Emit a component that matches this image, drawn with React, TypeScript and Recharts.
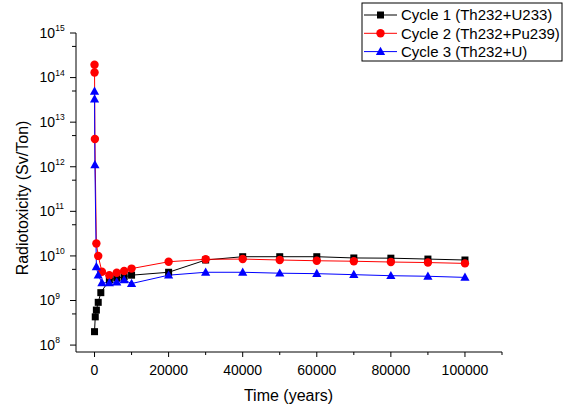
import React from 'react';
import { LineChart, Line, XAxis, YAxis } from 'recharts';

const yearsCycle1 = [0, 200, 500, 1000, 1700, 4000, 6000, 8000, 10000, 20000, 30000, 40000, 50000, 60000, 70000, 80000, 90000, 100000];
const cycle1 = [2.0e8, 4.3e8, 6.1e8, 9.1e8, 1.5e9, 2.9e9, 3.2e9, 3.4e9, 3.7e9, 4.3e9, 8.1e9, 9.6e9, 9.6e9, 9.6e9, 9.0e9, 8.9e9, 8.5e9, 8.1e9];

const yearsCycle23 = [0, 10, 100, 500, 1000, 2000, 4000, 6000, 8000, 10000, 20000, 30000, 40000, 50000, 60000, 70000, 80000, 90000, 100000];
const cycle2 = [1.94e14, 1.3e14, 4.2e12, 1.9e10, 1.0e10, 4.4e9, 3.7e9, 4.2e9, 4.6e9, 5.2e9, 7.4e9, 8.4e9, 8.5e9, 8.1e9, 7.8e9, 7.6e9, 7.3e9, 7.1e9, 6.8e9];
const cycle3 = [4.9e13, 3.3e13, 1.1e12, 5.7e9, 3.7e9, 2.5e9, 2.5e9, 2.6e9, 2.9e9, 2.4e9, 3.7e9, 4.3e9, 4.3e9, 4.1e9, 4.0e9, 3.8e9, 3.6e9, 3.5e9, 3.3e9];

const seriesNames = ['Cycle 1 (Th232+U233)', 'Cycle 2 (Th232+Pu239)', 'Cycle 3 (Th232+U)'];
const seriesColors = ['#000000', '#ff0000', '#0000ff'];

const xTicks = [0, 10000, 20000, 30000, 40000, 50000, 60000, 70000, 80000, 90000, 100000, 110000];
const xLabelTicks = [0, 20000, 40000, 60000, 80000, 100000];
const yMajorExps = [8, 9, 10, 11, 12, 13, 14, 15];
const yMinorTicks = [5e8, 5e9, 5e10, 5e11, 5e12, 5e13, 5e14];

const FONT = '"Liberation Sans", Arial, sans-serif';

const data1 = yearsCycle1.map((t, i) => ({ t, v: cycle1[i] }));
const data2 = yearsCycle23.map((t, i) => ({ t, v: cycle2[i] }));
const data3 = yearsCycle23.map((t, i) => ({ t, v: cycle3[i] }));
const yTicks = [...yMajorExps.map((e) => Math.pow(10, e)), ...yMinorTicks].sort((a, b) => a - b);

const SquareDot = (p: any) => {
  const { cx, cy } = p;
  if (cx == null || cy == null) return null;
  return <rect x={cx - 3.5} y={cy - 3.5} width={7} height={7} fill="#000" />;
};
const CircleDot = (p: any) => {
  const { cx, cy } = p;
  if (cx == null || cy == null) return null;
  return <circle cx={cx} cy={cy} r={4.2} fill="#ff0000" />;
};
const TriDot = (p: any) => {
  const { cx, cy } = p;
  if (cx == null || cy == null) return null;
  return <polygon points={`${cx},${cy - 4.8} ${cx + 4.6},${cy + 3.4} ${cx - 4.6},${cy + 3.4}`} fill="#0000ff" />;
};

const XTick = (p: any) => {
  const { x, y, payload } = p;
  const v = payload.value;
  const major = xLabelTicks.includes(v);
  return (
    <g>
      <line x1={x} x2={x} y1={y} y2={y + (major ? 5 : 3)} stroke="#000" strokeWidth={1} />
      {major && (
        <text x={x} y={y + 23} textAnchor="middle" fontSize={14} fontFamily={FONT} fill="#000">
          {v}
        </text>
      )}
    </g>
  );
};

const YTick = (p: any) => {
  const { x, y, payload } = p;
  const v = payload.value;
  const e = Math.round(Math.log10(v));
  const major = Math.abs(Math.log10(v) - e) < 1e-6;
  return (
    <g>
      <line x1={x} x2={x - (major ? 6 : 4)} y1={y} y2={y} stroke="#000" strokeWidth={1} />
      {major && (
        <text x={x - 21} y={y + 4.8} textAnchor="end" fontSize={14} fontFamily={FONT} fill="#000">
          10
        </text>
      )}
      {major && (
        <text x={x - 20.8} y={y - 2} textAnchor="start" fontSize={8.5} fontFamily={FONT} fill="#000">
          {e}
        </text>
      )}
    </g>
  );
};

const markerFor = (i: number, cx: number, cy: number) => {
  if (i === 0) return <rect x={cx - 3.5} y={cy - 3.5} width={7} height={7} fill="#000" />;
  if (i === 1) return <circle cx={cx} cy={cy} r={4.2} fill="#ff0000" />;
  return <polygon points={`${cx},${cy - 4.8} ${cx + 4.6},${cy + 3.4} ${cx - 4.6},${cy + 3.4}`} fill="#0000ff" />;
};

export default function App() {
  return (
    <div style={{ position: 'absolute', left: 0, top: 0, width: 565, height: 407, background: '#fff' }}>
      <LineChart width={565} height={407} margin={{ top: 33, right: 63, bottom: 25, left: 0 }}>
        <XAxis
          dataKey="t"
          type="number"
          domain={[-5000, 110000]}
          ticks={xTicks}
          interval={0}
          tick={<XTick />}
          tickLine={false}
          tickSize={0}
          tickMargin={0}
          height={30}
          axisLine={{ stroke: '#000', strokeWidth: 1 }}
          allowDataOverflow
        />
        <YAxis
          dataKey="v"
          type="number"
          scale="log"
          domain={[7e7, 1e15]}
          ticks={yTicks}
          interval={0}
          tick={<YTick />}
          tickLine={false}
          tickSize={0}
          tickMargin={0}
          width={76}
          axisLine={{ stroke: '#000', strokeWidth: 1 }}
          allowDataOverflow
        />
        <Line data={data1} dataKey="v" stroke={seriesColors[0]} strokeWidth={1} dot={<SquareDot />} isAnimationActive={false} />
        <Line data={data2} dataKey="v" stroke={seriesColors[1]} strokeWidth={1} dot={<CircleDot />} isAnimationActive={false} />
        <Line data={data3} dataKey="v" stroke={seriesColors[2]} strokeWidth={1} dot={<TriDot />} isAnimationActive={false} />
      </LineChart>
      <svg width={565} height={407} style={{ position: 'absolute', left: 0, top: 0, pointerEvents: 'none' }}>
        <text x={288.5} y={401} textAnchor="middle" fontSize={16} fontFamily={FONT} fill="#000">
          Time (years)
        </text>
        <text x={27.5} y={198} transform="rotate(-90 27.5 198)" textAnchor="middle" fontSize={16} fontFamily={FONT} fill="#000">
          Radiotoxicity (Sv/Ton)
        </text>
        <rect x={362} y={3} width={200} height={58} fill="#fff" stroke="#000" strokeWidth={1} />
        {seriesNames.map((n, i) => {
          const cy = 15 + i * 18.3;
          return (
            <g key={n}>
              <line x1={364} x2={397} y1={cy} y2={cy} stroke={seriesColors[i]} strokeWidth={1} />
              {markerFor(i, 380.5, cy)}
              <text x={401} y={cy + 5.3} fontSize={15} fontFamily={FONT} fill="#000">
                {n}
              </text>
            </g>
          );
        })}
      </svg>
    </div>
  );
}
